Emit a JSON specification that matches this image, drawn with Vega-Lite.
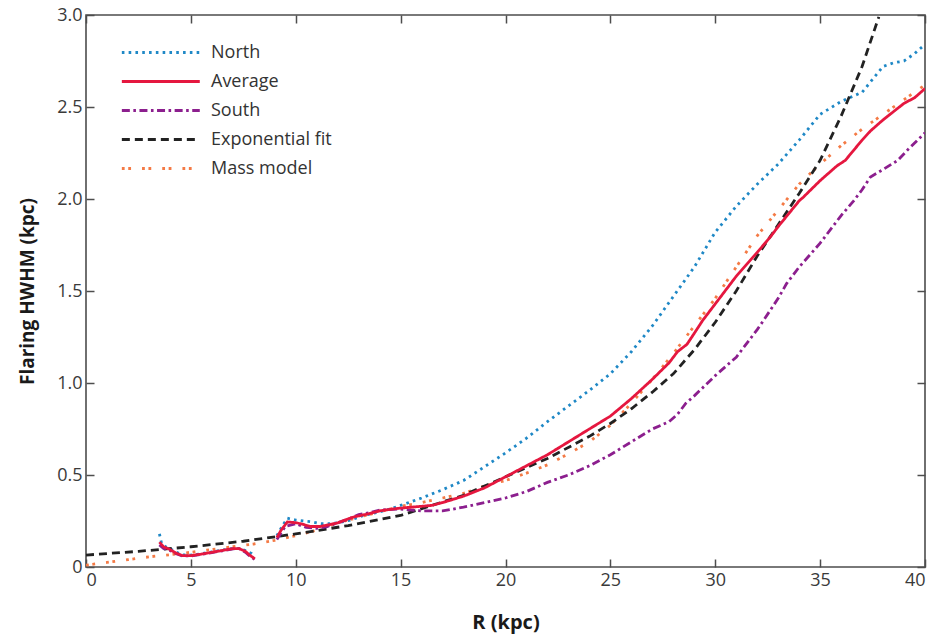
{
  "$schema": "https://vega.github.io/schema/vega-lite/v6.json",
  "width": 839,
  "height": 552,
  "autosize": {"type": "none"},
  "padding": {"left": 86, "top": 15, "right": 14, "bottom": 72},
  "background": "white",
  "config": {"view": {"stroke": "#4d4d4d", "strokeWidth": 1.6}, "font": "Open Sans"},
  "datasets": {
    "curves": [
      {"series":"North","seg":1,"R":3.5,"H":0.18},{"series":"North","seg":1,"R":3.6,"H":0.13},{"series":"North","seg":1,"R":3.8,"H":0.11},{"series":"North","seg":1,"R":4.0,"H":0.10},{"series":"North","seg":1,"R":4.3,"H":0.08},{"series":"North","seg":1,"R":4.6,"H":0.066},{"series":"North","seg":1,"R":5.0,"H":0.065},{"series":"North","seg":1,"R":5.5,"H":0.072},{"series":"North","seg":1,"R":6.0,"H":0.082},{"series":"North","seg":1,"R":6.5,"H":0.092},{"series":"North","seg":1,"R":7.0,"H":0.10},{"series":"North","seg":1,"R":7.3,"H":0.10},{"series":"North","seg":1,"R":7.6,"H":0.09},{"series":"North","seg":1,"R":7.9,"H":0.072},{"series":"North","seg":1,"R":8.0,"H":0.06},
      {"series":"North","seg":2,"R":9.1,"H":0.17},{"series":"North","seg":2,"R":9.4,"H":0.23},{"series":"North","seg":2,"R":9.6,"H":0.265},{"series":"North","seg":2,"R":10.0,"H":0.255},{"series":"North","seg":2,"R":10.4,"H":0.25},{"series":"North","seg":2,"R":10.8,"H":0.245},{"series":"North","seg":2,"R":11.2,"H":0.235},{"series":"North","seg":2,"R":11.6,"H":0.235},{"series":"North","seg":2,"R":12.0,"H":0.24},{"series":"North","seg":2,"R":12.6,"H":0.255},{"series":"North","seg":2,"R":13.1,"H":0.275},{"series":"North","seg":2,"R":13.6,"H":0.29},{"series":"North","seg":2,"R":14.0,"H":0.30},{"series":"North","seg":2,"R":14.5,"H":0.315},{"series":"North","seg":2,"R":15.0,"H":0.335},{"series":"North","seg":2,"R":16.0,"H":0.375},{"series":"North","seg":2,"R":17.0,"H":0.42},{"series":"North","seg":2,"R":18.0,"H":0.47},{"series":"North","seg":2,"R":19.0,"H":0.545},{"series":"North","seg":2,"R":20.0,"H":0.62},{"series":"North","seg":2,"R":21.0,"H":0.70},{"series":"North","seg":2,"R":22.0,"H":0.79},{"series":"North","seg":2,"R":23.0,"H":0.875},{"series":"North","seg":2,"R":24.0,"H":0.96},{"series":"North","seg":2,"R":25.0,"H":1.05},{"series":"North","seg":2,"R":26.0,"H":1.17},{"series":"North","seg":2,"R":27.0,"H":1.31},{"series":"North","seg":2,"R":28.0,"H":1.47},{"series":"North","seg":2,"R":29.0,"H":1.63},{"series":"North","seg":2,"R":30.0,"H":1.82},{"series":"North","seg":2,"R":31.0,"H":1.96},{"series":"North","seg":2,"R":32.0,"H":2.08},{"series":"North","seg":2,"R":33.0,"H":2.19},{"series":"North","seg":2,"R":34.0,"H":2.32},{"series":"North","seg":2,"R":35.0,"H":2.46},{"series":"North","seg":2,"R":36.0,"H":2.53},{"series":"North","seg":2,"R":37.0,"H":2.58},{"series":"North","seg":2,"R":38.0,"H":2.72},{"series":"North","seg":2,"R":38.5,"H":2.74},{"series":"North","seg":2,"R":39.0,"H":2.75},{"series":"North","seg":2,"R":39.5,"H":2.79},{"series":"North","seg":2,"R":40.0,"H":2.84},

      {"series":"Mass model","seg":1,"R":0,"H":0.01},{"series":"Mass model","seg":1,"R":1,"H":0.025},{"series":"Mass model","seg":1,"R":2,"H":0.04},{"series":"Mass model","seg":1,"R":3,"H":0.055},{"series":"Mass model","seg":1,"R":4,"H":0.067},{"series":"Mass model","seg":1,"R":5,"H":0.08},{"series":"Mass model","seg":1,"R":6,"H":0.095},{"series":"Mass model","seg":1,"R":7,"H":0.11},{"series":"Mass model","seg":1,"R":8,"H":0.125},{"series":"Mass model","seg":1,"R":9,"H":0.145},{"series":"Mass model","seg":1,"R":10,"H":0.17},{"series":"Mass model","seg":1,"R":11,"H":0.20},{"series":"Mass model","seg":1,"R":12,"H":0.24},{"series":"Mass model","seg":1,"R":13,"H":0.27},{"series":"Mass model","seg":1,"R":14,"H":0.30},{"series":"Mass model","seg":1,"R":15,"H":0.33},{"series":"Mass model","seg":1,"R":16,"H":0.35},{"series":"Mass model","seg":1,"R":17,"H":0.375},{"series":"Mass model","seg":1,"R":18,"H":0.40},{"series":"Mass model","seg":1,"R":19,"H":0.44},{"series":"Mass model","seg":1,"R":20,"H":0.47},{"series":"Mass model","seg":1,"R":21,"H":0.51},{"series":"Mass model","seg":1,"R":22,"H":0.555},{"series":"Mass model","seg":1,"R":23,"H":0.615},{"series":"Mass model","seg":1,"R":24,"H":0.68},{"series":"Mass model","seg":1,"R":25,"H":0.77},{"series":"Mass model","seg":1,"R":26,"H":0.89},{"series":"Mass model","seg":1,"R":27,"H":1.02},{"series":"Mass model","seg":1,"R":28,"H":1.16},{"series":"Mass model","seg":1,"R":29,"H":1.31},{"series":"Mass model","seg":1,"R":30,"H":1.46},{"series":"Mass model","seg":1,"R":31,"H":1.63},{"series":"Mass model","seg":1,"R":32,"H":1.80},{"series":"Mass model","seg":1,"R":33,"H":1.94},{"series":"Mass model","seg":1,"R":34,"H":2.08},{"series":"Mass model","seg":1,"R":35,"H":2.19},{"series":"Mass model","seg":1,"R":36,"H":2.29},{"series":"Mass model","seg":1,"R":37,"H":2.38},{"series":"Mass model","seg":1,"R":38,"H":2.46},{"series":"Mass model","seg":1,"R":39,"H":2.54},{"series":"Mass model","seg":1,"R":40,"H":2.62},

      {"series":"Exponential fit","seg":1,"R":0,"H":0.065},{"series":"Exponential fit","seg":1,"R":2.5,"H":0.085},{"series":"Exponential fit","seg":1,"R":5,"H":0.11},{"series":"Exponential fit","seg":1,"R":7.5,"H":0.14},{"series":"Exponential fit","seg":1,"R":10,"H":0.18},{"series":"Exponential fit","seg":1,"R":12.5,"H":0.225},{"series":"Exponential fit","seg":1,"R":15,"H":0.28},{"series":"Exponential fit","seg":1,"R":18,"H":0.39},{"series":"Exponential fit","seg":1,"R":20,"H":0.49},{"series":"Exponential fit","seg":1,"R":22,"H":0.59},{"series":"Exponential fit","seg":1,"R":24,"H":0.71},{"series":"Exponential fit","seg":1,"R":25,"H":0.78},{"series":"Exponential fit","seg":1,"R":26,"H":0.86},{"series":"Exponential fit","seg":1,"R":27,"H":0.95},{"series":"Exponential fit","seg":1,"R":28,"H":1.05},{"series":"Exponential fit","seg":1,"R":29,"H":1.18},{"series":"Exponential fit","seg":1,"R":30,"H":1.33},{"series":"Exponential fit","seg":1,"R":31,"H":1.50},{"series":"Exponential fit","seg":1,"R":32,"H":1.69},{"series":"Exponential fit","seg":1,"R":33,"H":1.86},{"series":"Exponential fit","seg":1,"R":34,"H":2.03},{"series":"Exponential fit","seg":1,"R":35,"H":2.21},{"series":"Exponential fit","seg":1,"R":36,"H":2.45},{"series":"Exponential fit","seg":1,"R":37,"H":2.72},{"series":"Exponential fit","seg":1,"R":37.8,"H":2.99},

      {"series":"South","seg":1,"R":3.5,"H":0.12},{"series":"South","seg":1,"R":3.7,"H":0.10},{"series":"South","seg":1,"R":4.0,"H":0.09},{"series":"South","seg":1,"R":4.3,"H":0.072},{"series":"South","seg":1,"R":4.6,"H":0.06},{"series":"South","seg":1,"R":5.0,"H":0.06},{"series":"South","seg":1,"R":5.5,"H":0.068},{"series":"South","seg":1,"R":6.0,"H":0.078},{"series":"South","seg":1,"R":6.5,"H":0.088},{"series":"South","seg":1,"R":7.0,"H":0.098},{"series":"South","seg":1,"R":7.3,"H":0.10},{"series":"South","seg":1,"R":7.6,"H":0.08},{"series":"South","seg":1,"R":7.8,"H":0.06},{"series":"South","seg":1,"R":8.05,"H":0.04},
      {"series":"South","seg":2,"R":9.1,"H":0.15},{"series":"South","seg":2,"R":9.5,"H":0.22},{"series":"South","seg":2,"R":10.0,"H":0.235},{"series":"South","seg":2,"R":10.5,"H":0.215},{"series":"South","seg":2,"R":11.0,"H":0.21},{"series":"South","seg":2,"R":11.5,"H":0.22},{"series":"South","seg":2,"R":12.0,"H":0.24},{"series":"South","seg":2,"R":12.5,"H":0.26},{"series":"South","seg":2,"R":13.0,"H":0.285},{"series":"South","seg":2,"R":13.5,"H":0.295},{"series":"South","seg":2,"R":14.0,"H":0.31},{"series":"South","seg":2,"R":15.0,"H":0.315},{"series":"South","seg":2,"R":16.0,"H":0.305},{"series":"South","seg":2,"R":17.0,"H":0.305},{"series":"South","seg":2,"R":18.0,"H":0.325},{"series":"South","seg":2,"R":19.0,"H":0.35},{"series":"South","seg":2,"R":20.0,"H":0.375},{"series":"South","seg":2,"R":21.0,"H":0.41},{"series":"South","seg":2,"R":22.0,"H":0.46},{"series":"South","seg":2,"R":23.0,"H":0.50},{"series":"South","seg":2,"R":24.0,"H":0.55},{"series":"South","seg":2,"R":25.0,"H":0.61},{"series":"South","seg":2,"R":26.0,"H":0.68},{"series":"South","seg":2,"R":27.0,"H":0.75},{"series":"South","seg":2,"R":27.8,"H":0.79},{"series":"South","seg":2,"R":28.2,"H":0.83},{"series":"South","seg":2,"R":28.6,"H":0.89},{"series":"South","seg":2,"R":29.0,"H":0.93},{"series":"South","seg":2,"R":30.0,"H":1.04},{"series":"South","seg":2,"R":31.0,"H":1.14},{"series":"South","seg":2,"R":32.0,"H":1.29},{"series":"South","seg":2,"R":32.3,"H":1.34},{"series":"South","seg":2,"R":33.0,"H":1.46},{"series":"South","seg":2,"R":33.4,"H":1.54},{"series":"South","seg":2,"R":34.0,"H":1.63},{"series":"South","seg":2,"R":35.0,"H":1.76},{"series":"South","seg":2,"R":36.0,"H":1.91},{"series":"South","seg":2,"R":36.6,"H":1.99},{"series":"South","seg":2,"R":37.0,"H":2.05},{"series":"South","seg":2,"R":37.4,"H":2.12},{"series":"South","seg":2,"R":38.0,"H":2.16},{"series":"South","seg":2,"R":38.7,"H":2.21},{"series":"South","seg":2,"R":39.2,"H":2.27},{"series":"South","seg":2,"R":40.0,"H":2.36},

      {"series":"Average","seg":1,"R":3.5,"H":0.135},{"series":"Average","seg":1,"R":3.7,"H":0.11},{"series":"Average","seg":1,"R":4.0,"H":0.095},{"series":"Average","seg":1,"R":4.3,"H":0.075},{"series":"Average","seg":1,"R":4.6,"H":0.062},{"series":"Average","seg":1,"R":5.0,"H":0.062},{"series":"Average","seg":1,"R":5.5,"H":0.07},{"series":"Average","seg":1,"R":6.0,"H":0.08},{"series":"Average","seg":1,"R":6.5,"H":0.09},{"series":"Average","seg":1,"R":7.0,"H":0.10},{"series":"Average","seg":1,"R":7.3,"H":0.10},{"series":"Average","seg":1,"R":7.6,"H":0.085},{"series":"Average","seg":1,"R":7.8,"H":0.065},{"series":"Average","seg":1,"R":8.05,"H":0.045},
      {"series":"Average","seg":2,"R":9.1,"H":0.16},{"series":"Average","seg":2,"R":9.3,"H":0.20},{"series":"Average","seg":2,"R":9.6,"H":0.245},{"series":"Average","seg":2,"R":10.05,"H":0.24},{"series":"Average","seg":2,"R":10.4,"H":0.23},{"series":"Average","seg":2,"R":10.7,"H":0.22},{"series":"Average","seg":2,"R":11.15,"H":0.22},{"series":"Average","seg":2,"R":11.6,"H":0.23},{"series":"Average","seg":2,"R":12.0,"H":0.24},{"series":"Average","seg":2,"R":12.7,"H":0.27},{"series":"Average","seg":2,"R":13.5,"H":0.29},{"series":"Average","seg":2,"R":14.0,"H":0.305},{"series":"Average","seg":2,"R":14.6,"H":0.315},{"series":"Average","seg":2,"R":15.0,"H":0.32},{"series":"Average","seg":2,"R":16.0,"H":0.33},{"series":"Average","seg":2,"R":16.5,"H":0.335},{"series":"Average","seg":2,"R":17.0,"H":0.35},{"series":"Average","seg":2,"R":18.0,"H":0.385},{"series":"Average","seg":2,"R":19.0,"H":0.43},{"series":"Average","seg":2,"R":20.0,"H":0.49},{"series":"Average","seg":2,"R":21.0,"H":0.55},{"series":"Average","seg":2,"R":22.0,"H":0.61},{"series":"Average","seg":2,"R":23.0,"H":0.68},{"series":"Average","seg":2,"R":24.0,"H":0.75},{"series":"Average","seg":2,"R":25.0,"H":0.82},{"series":"Average","seg":2,"R":26.0,"H":0.915},{"series":"Average","seg":2,"R":27.0,"H":1.02},{"series":"Average","seg":2,"R":27.8,"H":1.11},{"series":"Average","seg":2,"R":28.2,"H":1.17},{"series":"Average","seg":2,"R":28.65,"H":1.21},{"series":"Average","seg":2,"R":29.0,"H":1.27},{"series":"Average","seg":2,"R":29.4,"H":1.34},{"series":"Average","seg":2,"R":30.0,"H":1.43},{"series":"Average","seg":2,"R":30.4,"H":1.49},{"series":"Average","seg":2,"R":31.0,"H":1.58},{"series":"Average","seg":2,"R":32.0,"H":1.71},{"series":"Average","seg":2,"R":32.6,"H":1.79},{"series":"Average","seg":2,"R":33.0,"H":1.85},{"series":"Average","seg":2,"R":34.0,"H":1.99},{"series":"Average","seg":2,"R":34.2,"H":2.01},{"series":"Average","seg":2,"R":35.0,"H":2.10},{"series":"Average","seg":2,"R":35.8,"H":2.18},{"series":"Average","seg":2,"R":36.2,"H":2.21},{"series":"Average","seg":2,"R":37.0,"H":2.32},{"series":"Average","seg":2,"R":37.4,"H":2.37},{"series":"Average","seg":2,"R":38.0,"H":2.43},{"series":"Average","seg":2,"R":39.0,"H":2.52},{"series":"Average","seg":2,"R":39.5,"H":2.55},{"series":"Average","seg":2,"R":40.0,"H":2.60}
    ]
  },
  "data": {"name": "curves"},
  "layer": [
    {
      "mark": {"type": "line", "strokeWidth": 2.8, "clip": true},
      "encoding": {
        "x": {
          "field": "R", "type": "quantitative",
          "scale": {"domain": [0, 40], "nice": false, "zero": false},
          "axis": {
            "orient": "bottom", "values": [0, 5, 10, 15, 20, 25, 30, 35, 40],
            "grid": false, "domain": false, "offset": -8,
            "tickColor": "#4d4d4d", "tickWidth": 1.5, "tickSize": 8,
            "labelPadding": 4, "labelFont": "Open Sans", "labelFontSize": 18, "labelColor": "#3a3a3a",
            "title": "R (kpc)", "titleFont": "Open Sans", "titleFontSize": 20, "titleFontWeight": "bold",
            "titleColor": "#1a1a1a", "titlePadding": 23
          }
        },
        "y": {
          "field": "H", "type": "quantitative",
          "scale": {"domain": [0, 3], "nice": false, "zero": false},
          "axis": {
            "orient": "left", "values": [0, 0.5, 1, 1.5, 2, 2.5, 3],
            "labelExpr": "datum.value == 0 ? '0' : format(datum.value, '.1f')",
            "grid": false, "domain": false, "offset": -8,
            "tickColor": "#4d4d4d", "tickWidth": 1.5, "tickSize": 8,
            "labelPadding": 4, "labelFont": "Open Sans", "labelFontSize": 18, "labelColor": "#3a3a3a",
            "title": "Flaring HWHM (kpc)", "titleFont": "Open Sans", "titleFontSize": 19, "titleFontWeight": "bold",
            "titleColor": "#1a1a1a", "titlePadding": 19
          }
        },
        "color": {
          "field": "series", "type": "nominal",
          "scale": {
            "domain": ["North", "Average", "South", "Exponential fit", "Mass model"],
            "range": ["#1f88c6", "#e5173f", "#8c1f8e", "#222222", "#f47a45"]
          },
          "legend": {
            "orient": "none", "legendX": 34, "legendY": 27, "title": null,
            "symbolType": "M-1,0H8", "symbolSize": 300, "symbolStrokeWidth": 2.8,
            "labelFont": "Open Sans", "labelFontSize": 18, "labelColor": "#333333",
            "labelOffset": 70, "rowPadding": 9
          }
        },
        "strokeDash": {
          "field": "series", "type": "nominal",
          "scale": {
            "domain": ["North", "Average", "South", "Exponential fit", "Mass model"],
            "range": [[2.6, 4.2], [1, 0], [8, 3.5, 2.6, 3.5], [8, 5], [2.8, 3.6, 2.8, 11]]
          },
          "legend": {
            "orient": "none", "legendX": 34, "legendY": 27, "title": null,
            "symbolType": "M-1,0H8", "symbolSize": 300, "symbolStrokeWidth": 2.8,
            "labelFont": "Open Sans", "labelFontSize": 18, "labelColor": "#333333",
            "labelOffset": 70, "rowPadding": 9
          }
        },
        "detail": {"field": "seg", "type": "nominal"}
      }
    },
    {
      "mark": {"type": "point", "opacity": 0},
      "encoding": {
        "x": {
          "field": "R", "type": "quantitative",
          "axis": {
            "orient": "top", "values": [0, 5, 10, 15, 20, 25, 30, 35, 40], "labels": false, "title": null,
            "grid": false, "domain": false, "offset": -8,
            "tickColor": "#4d4d4d", "tickWidth": 1.5, "tickSize": 8
          }
        },
        "y": {
          "field": "H", "type": "quantitative",
          "axis": {
            "orient": "right", "values": [0, 0.5, 1, 1.5, 2, 2.5, 3], "labels": false, "title": null,
            "grid": false, "domain": false, "offset": -8,
            "tickColor": "#4d4d4d", "tickWidth": 1.5, "tickSize": 8
          }
        }
      }
    }
  ],
  "resolve": {"axis": {"x": "independent", "y": "independent"}}
}
